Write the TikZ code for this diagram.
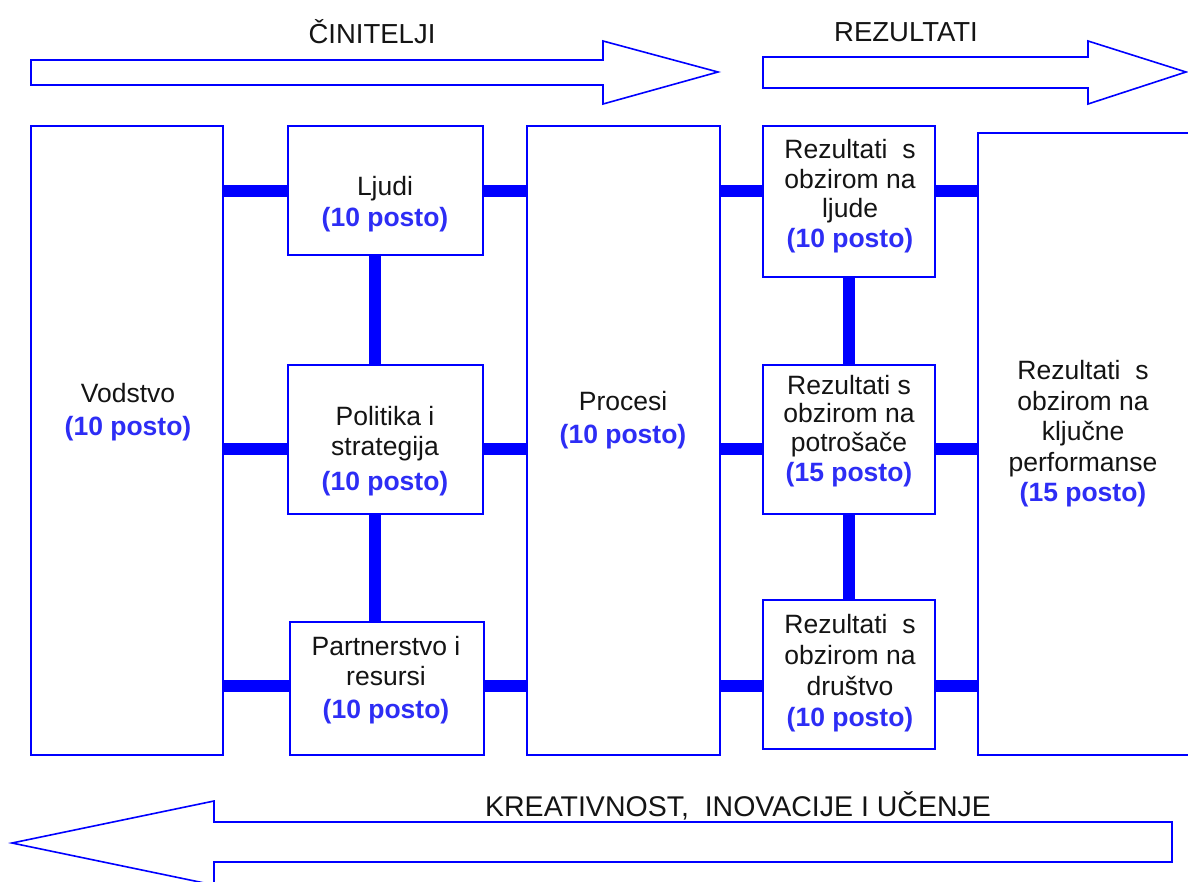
\documentclass[tikz,border=0pt]{standalone}
\usepackage{fontspec}
\setmainfont{Liberation Sans}
\definecolor{lblue}{RGB}{0,0,255}
\definecolor{tblue}{RGB}{45,45,245}
\definecolor{tblack}{RGB}{20,20,20}
\newcommand\pctx[1]{{\color{tblue}\bfseries #1}}
\begin{document}
\begin{tikzpicture}[x=1pt,y=-1pt,
  box/.style={draw=lblue, line width=1.5pt, fill=white, rectangle, inner sep=0pt, outer sep=0pt, anchor=north west},
  conn/.style={draw=lblue, line width=12pt},
  bigarrow/.style={draw=lblue, line width=1.6pt, line join=miter, fill=white},
  lbl/.style={align=center, text=tblack, font=\fontsize{26.5}{30.5}\selectfont, inner sep=0pt},
  ttl/.style={text=tblack, font=\fontsize{27.5}{32}\selectfont, inner sep=0pt}
]
\useasboundingbox (0,0) rectangle (1188,881);
% big arrows
\draw[bigarrow] (31,60) -- (603,60) -- (603,41) -- (718,72) -- (603,104) -- (603,85) -- (31,85) -- cycle;
\draw[bigarrow] (763,57) -- (1088,57) -- (1088,41) -- (1186,72) -- (1088,104) -- (1088,88) -- (763,88) -- cycle;
\draw[bigarrow] (1172,822) -- (214,822) -- (214,801) -- (12,843) -- (214,885) -- (214,862) -- (1172,862) -- cycle;
\node[ttl] (t1) at (372,32) {ČINITELJI};
\node[ttl] (t2) at (906,32) {REZULTATI};
\node[ttl, font=\fontsize{28.5}{32}\selectfont] (t3) at (738,806) {KREATIVNOST,\ \ INOVACIJE I UČENJE};
% boxes
\node[box, minimum width=192, minimum height=629] (vod) at (31,126) {};
\node[box, minimum width=195, minimum height=129] (lju) at (288,126) {};
\node[box, minimum width=195, minimum height=149] (pol) at (288,365) {};
\node[box, minimum width=194, minimum height=133] (par) at (290,622) {};
\node[box, minimum width=193, minimum height=629] (pro) at (527,126) {};
\node[box, minimum width=172, minimum height=151] (rlj) at (763,126) {};
\node[box, minimum width=172, minimum height=149] (rpo) at (763,365) {};
\node[box, minimum width=172, minimum height=149] (rdr) at (763,600) {};
\node[box, minimum width=212, minimum height=622] (rkl) at (978,133) {};
% connectors
\foreach \a/\b/\y in {vod/lju/191, lju/pro/191, pro/rlj/191, rlj/rkl/191,
                      vod/pol/449, pol/pro/449, pro/rpo/449, rpo/rkl/449,
                      vod/par/686, par/pro/686, pro/rdr/686, rdr/rkl/686}
  \draw[conn] (\a.east |- 0,\y) -- (\b.west |- 0,\y);
\draw[conn] (lju.south -| 375,0) -- (pol.north -| 375,0);
\draw[conn] (pol.south -| 375,0) -- (par.north -| 375,0);
\draw[conn] (rlj.south -| 849,0) -- (rpo.north -| 849,0);
\draw[conn] (rpo.south -| 849,0) -- (rdr.north -| 849,0);
% labels
\node[lbl] (lvod) at (128,412) {Vodstvo\\[3pt]\pctx{(10 posto)}};
\node[lbl] (llju) at (385,204) {Ljudi\\[1pt]\pctx{(10 posto)}};
\node[lbl] (lpol) at (385,451) {Politika i\\strategija\\[4pt]\pctx{(10 posto)}};
\node[lbl] (lpar) at (386,680) {Partnerstvo i\\resursi\\[2pt]\pctx{(10 posto)}};
\node[lbl] (lpro) at (623,420) {Procesi\\[2pt]\pctx{(10 posto)}};
\node[lbl] (lrlj) at (850,196) {Rezultati\ \ s\\obzirom na\\[-2pt]ljude\\\pctx{(10 posto)}};
\node[lbl] (lrpo) at (849,431) {Rezultati s\\[-2pt]obzirom na\\[-2pt]potrošače\\\pctx{(15 posto)}};
\node[lbl] (lrdr) at (850,673) {Rezultati\ \ s\\obzirom na\\[1pt]društvo\\\pctx{(10 posto)}};
\node[lbl] (lrkl) at (1083,434) {Rezultati\ \ s\\obzirom na\\ključne\\performanse\\\pctx{(15 posto)}};
\end{tikzpicture}
\end{document}
